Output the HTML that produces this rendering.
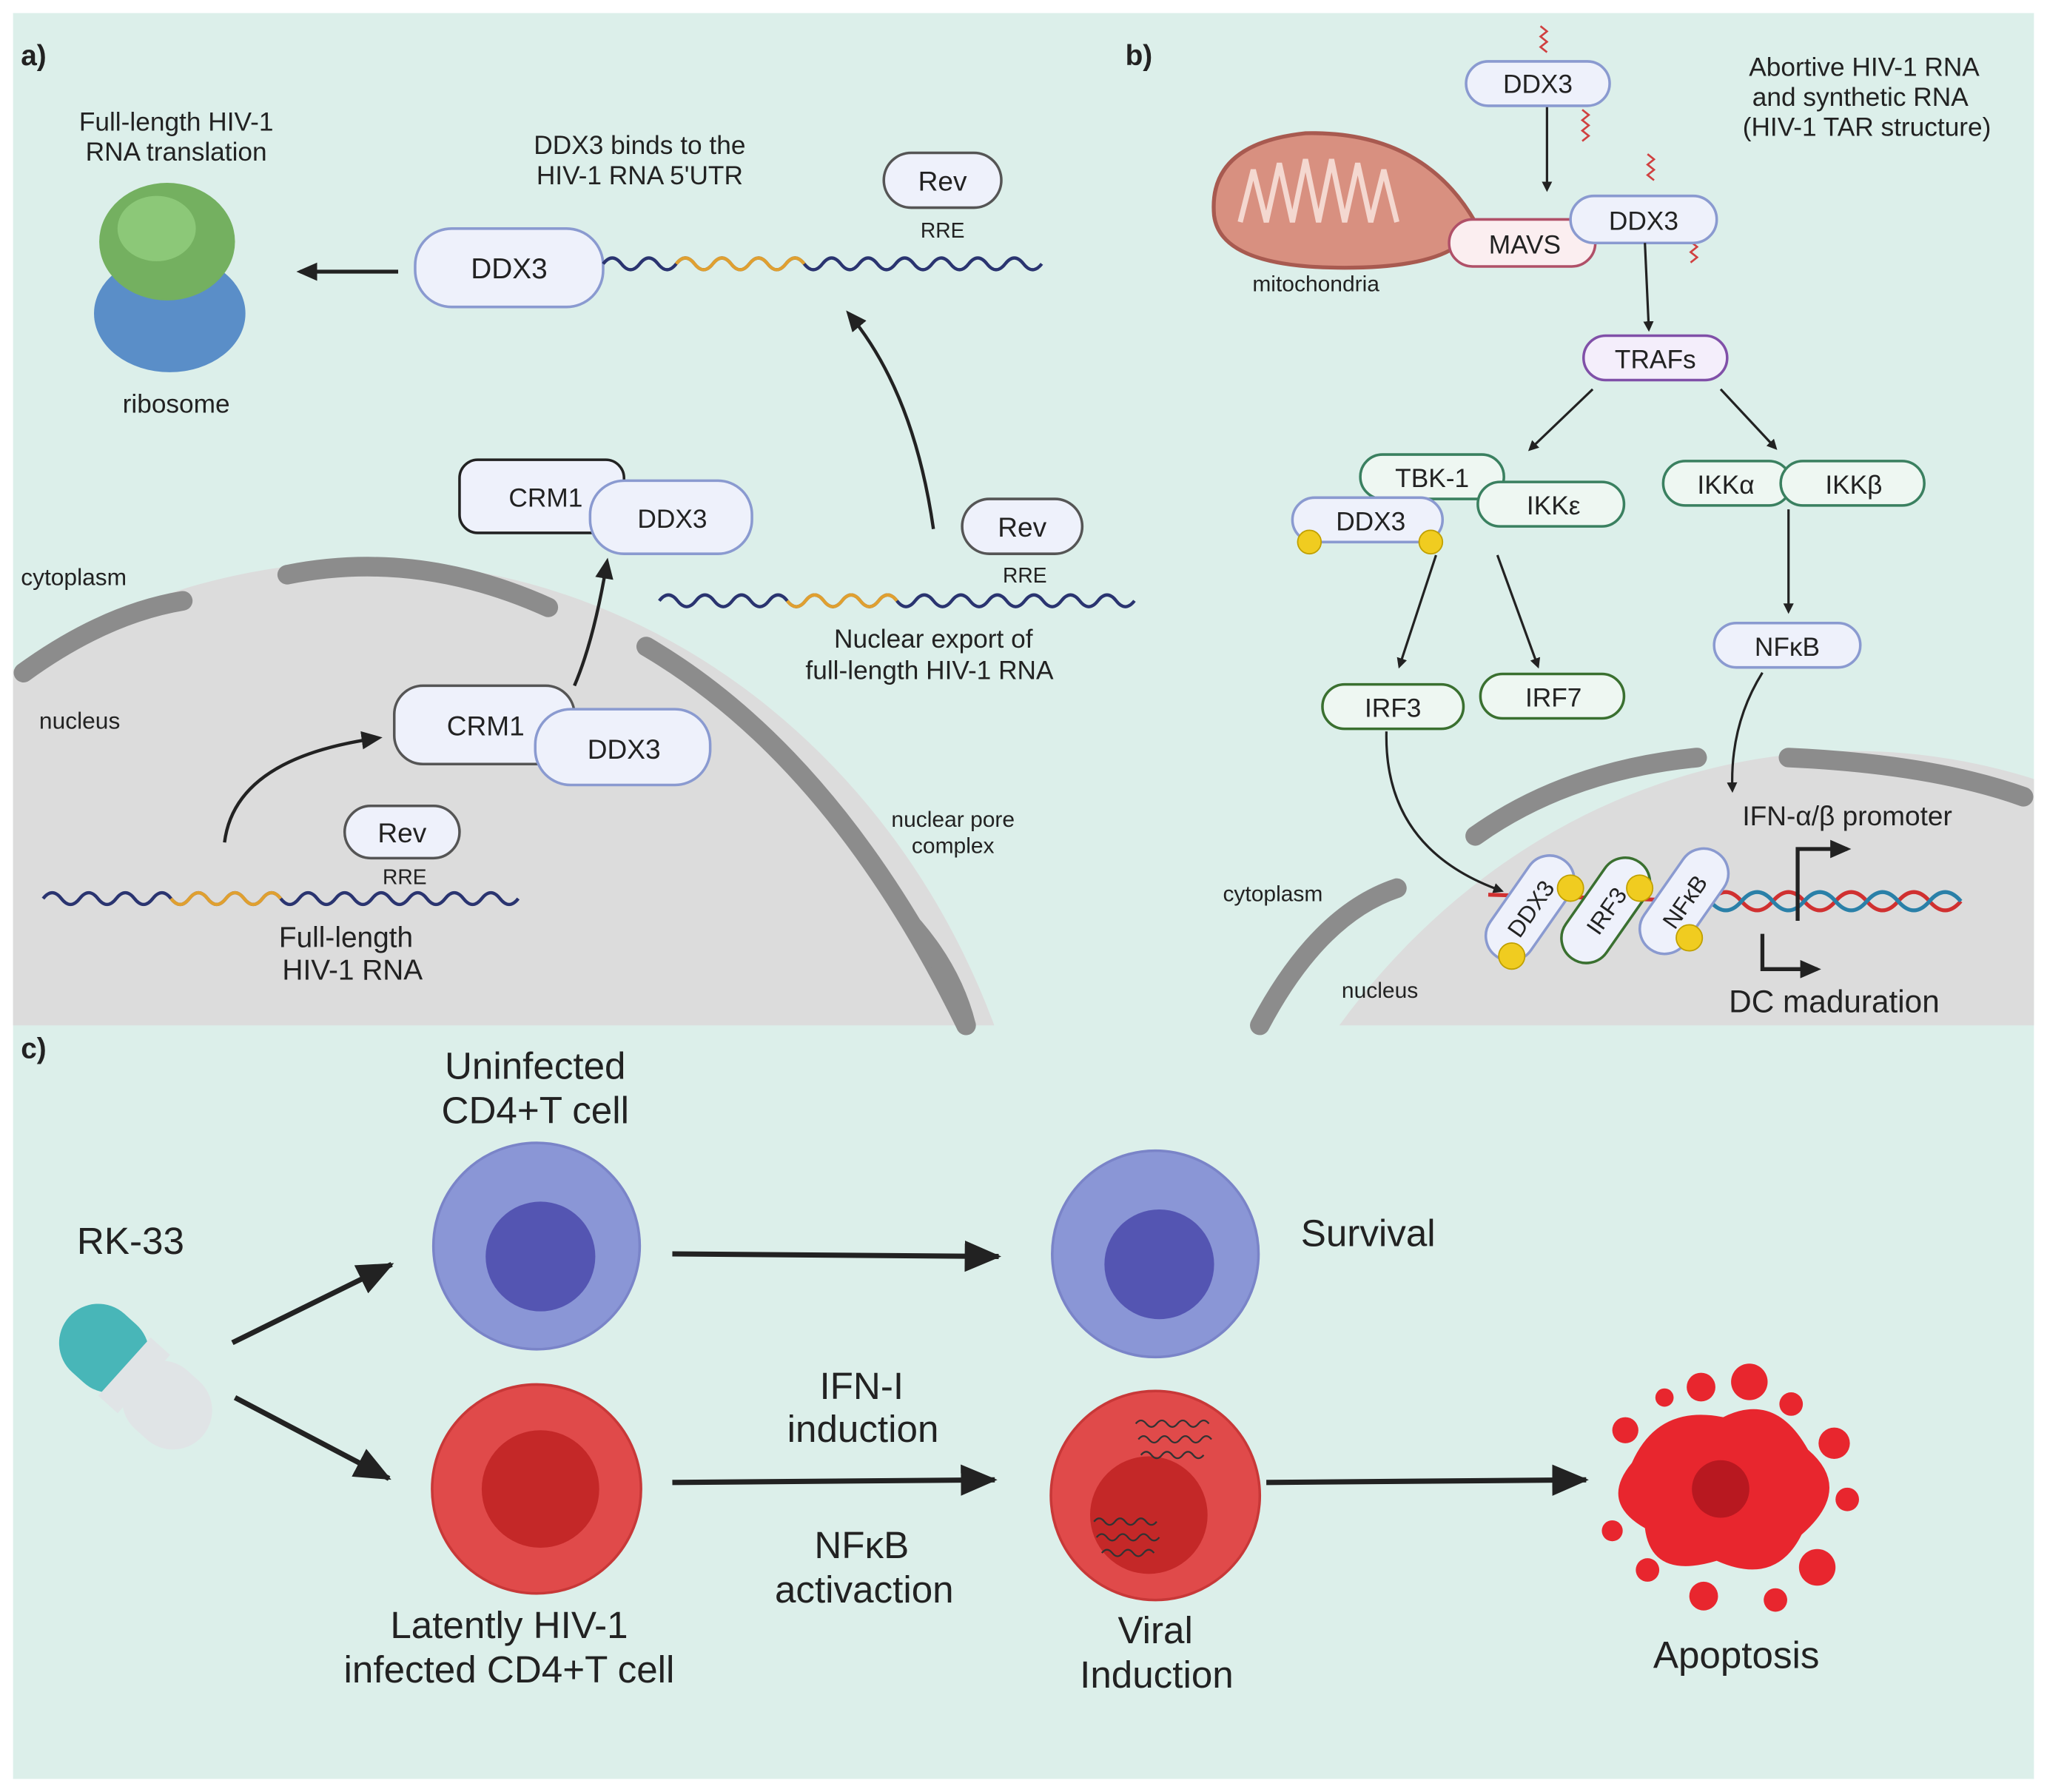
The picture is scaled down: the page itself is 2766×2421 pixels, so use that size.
<!DOCTYPE html>
<html><head><meta charset="utf-8"><style>
html,body{margin:0;padding:0;background:#fff;width:2766px;height:2421px;overflow:hidden}
svg{display:block}
text{font-family:"Liberation Sans",sans-serif;fill:#222}
</style></head><body>
<svg width="2766" height="2421" viewBox="0 0 1568 1372" preserveAspectRatio="none" xmlns="http://www.w3.org/2000/svg">
<defs>
<marker id="ar" markerWidth="8" markerHeight="8" refX="6" refY="4" orient="auto" markerUnits="userSpaceOnUse"><path d="M0,0 L8,4 L0,8 z" fill="#222"/></marker>
<marker id="arB" markerWidth="30" markerHeight="24" refX="26" refY="12" orient="auto" markerUnits="userSpaceOnUse"><path d="M0,0 L28,12 L0,24 z" fill="#222"/></marker>
<marker id="arM" markerWidth="16" markerHeight="14" refX="13" refY="7" orient="auto" markerUnits="userSpaceOnUse"><path d="M0,0 L16,7 L0,14 z" fill="#222"/></marker>
<clipPath id="ca"><rect x="10" y="10" width="1548" height="775"/></clipPath>
</defs>
<rect x="10" y="10" width="1548" height="1352" fill="#dcefea"/>
<g clip-path="url(#ca)">
<ellipse cx="280" cy="1000" rx="520" ry="570" fill="#dcdcdc"/>
<ellipse cx="1420" cy="1150" rx="510" ry="575" fill="#dcdcdc"/>
</g>
<g fill="none" stroke="#8c8c8c" stroke-width="15" stroke-linecap="round">
<path d="M18,515 Q80,470 140,460"/>
<path d="M220,440 Q320,420 420,465"/>
<path d="M495,495 Q640,580 740,785"/>
<path d="M700,710 Q730,745 740,785"/>
<path d="M965,785 Q1010,700 1070,680"/>
<path d="M1130,640 Q1200,590 1300,580"/>
<path d="M1370,580 Q1480,585 1550,610"/>
</g>
<text x="16" y="50" font-size="22" font-weight="bold">a)</text>
<text x="862" y="50" font-size="22" font-weight="bold">b)</text>
<text x="16" y="810" font-size="22" font-weight="bold">c)</text>
<text x="135" y="100" font-size="20" text-anchor="middle">Full-length  HIV-1</text>
<text x="135" y="123" font-size="20" text-anchor="middle">RNA translation</text>
<ellipse cx="130" cy="240" rx="58" ry="45" fill="#5a8ec8"/>
<ellipse cx="128" cy="185" rx="52" ry="45" fill="#74b060"/>
<ellipse cx="120" cy="175" rx="30" ry="25" fill="#8cc878"/>
<text x="135" y="316" font-size="20" text-anchor="middle">ribosome</text>
<line x1="305" y1="208" x2="230" y2="208" stroke="#222" stroke-width="3" marker-end="url(#arM)"/>
<text x="490" y="118" font-size="20" text-anchor="middle">DDX3 binds to the</text>
<text x="490" y="141" font-size="20" text-anchor="middle">HIV-1 RNA 5'UTR</text>
<rect x="318" y="175" width="144" height="60" rx="28" fill="#eef1fb" stroke="#8a9ad0" stroke-width="2"/>
<text x="390" y="213" font-size="22" text-anchor="middle">DDX3</text>
<path d="M462,202 q7,-9 14,0 t14,0 t14,0 t14,0 t14,0 t14,0 t14,0 t14,0 t14,0 t14,0 t14,0 t14,0 t14,0 t14,0 t14,0 t14,0 t14,0 t14,0 t14,0 t14,0 t14,0 t14,0 t14,0 t14,0" fill="none" stroke="#2a3470" stroke-width="2.5"/>
<path d="M518,202 q7,-9 14,0 t14,0 t14,0 t14,0 t14,0 t14,0 t14,0" fill="none" stroke="#e0a030" stroke-width="2.5"/>
<rect x="677" y="117" width="90" height="42" rx="21" fill="#eef1fb" stroke="#555" stroke-width="2"/>
<text x="722" y="146" font-size="21" text-anchor="middle">Rev</text>
<text x="722" y="182" font-size="16" text-anchor="middle">RRE</text>
<path d="M715,405 Q700,300 650,240" fill="none" stroke="#222" stroke-width="2.5" marker-end="url(#arM)"/>
<rect x="352" y="352" width="126" height="56" rx="14" fill="#eef1fb" stroke="#222" stroke-width="2"/>
<text x="418" y="388" font-size="20" text-anchor="middle">CRM1</text>
<rect x="452" y="368" width="124" height="56" rx="26" fill="#eef1fb" stroke="#8a9ad0" stroke-width="2"/>
<text x="515" y="404" font-size="20" text-anchor="middle">DDX3</text>
<text x="16" y="448" font-size="18">cytoplasm</text>
<text x="30" y="558" font-size="18">nucleus</text>
<rect x="737" y="382" width="92" height="42" rx="21" fill="#eef1fb" stroke="#555" stroke-width="2"/>
<text x="783" y="411" font-size="21" text-anchor="middle">Rev</text>
<text x="785" y="446" font-size="16" text-anchor="middle">RRE</text>
<path d="M505,460 q7,-9 14,0 t14,0 t14,0 t14,0 t14,0 t14,0 t14,0 t14,0 t14,0 t14,0 t14,0 t14,0 t14,0 t14,0 t14,0 t14,0 t14,0 t14,0 t14,0 t14,0 t14,0 t14,0 t14,0 t14,0 t14,0 t14,0" fill="none" stroke="#2a3470" stroke-width="2.5"/>
<path d="M603,460 q7,9 14,0 t14,0 t14,0 t14,0 t14,0 t14,0" fill="none" stroke="#e0a030" stroke-width="2.5"/>
<text x="715" y="496" font-size="20" text-anchor="middle">Nuclear export of</text>
<text x="712" y="520" font-size="20" text-anchor="middle">full-length HIV-1 RNA</text>
<path d="M440,525 Q455,490 465,430" fill="none" stroke="#222" stroke-width="2.5" marker-end="url(#arM)"/>
<rect x="302" y="525" width="138" height="60" rx="22" fill="#eef1fb" stroke="#555" stroke-width="2"/>
<text x="372" y="563" font-size="21" text-anchor="middle">CRM1</text>
<rect x="410" y="543" width="134" height="58" rx="27" fill="#eef1fb" stroke="#8a9ad0" stroke-width="2"/>
<text x="478" y="581" font-size="21" text-anchor="middle">DDX3</text>
<path d="M172,645 Q180,580 290,565" fill="none" stroke="#222" stroke-width="2.5" marker-end="url(#arM)"/>
<rect x="264" y="617" width="88" height="40" rx="20" fill="#eef1fb" stroke="#555" stroke-width="2"/>
<text x="308" y="645" font-size="21" text-anchor="middle">Rev</text>
<text x="310" y="677" font-size="16" text-anchor="middle">RRE</text>
<path d="M33,688 q7,-9 14,0 t14,0 t14,0 t14,0 t14,0 t14,0 t14,0 t14,0 t14,0 t14,0 t14,0 t14,0 t14,0 t14,0 t14,0 t14,0 t14,0 t14,0 t14,0 t14,0 t14,0 t14,0 t14,0 t14,0 t14,0 t14,0" fill="none" stroke="#2a3470" stroke-width="2.5"/>
<path d="M131,688 q7,9 14,0 t14,0 t14,0 t14,0 t14,0 t14,0" fill="none" stroke="#e0a030" stroke-width="2.5"/>
<text x="265" y="725" font-size="22" text-anchor="middle">Full-length</text>
<text x="270" y="750" font-size="22" text-anchor="middle">HIV-1 RNA</text>
<text x="730" y="633" font-size="17" text-anchor="middle">nuclear pore</text>
<text x="730" y="653" font-size="17" text-anchor="middle">complex</text>
<rect x="1123" y="47" width="110" height="34" rx="17" fill="#eef1fb" stroke="#8a9ad0" stroke-width="2"/>
<text x="1178" y="71" font-size="20" text-anchor="middle">DDX3</text>
<path d="M1180,20 l5,4 -5,4 5,4 -5,4 5,4" fill="none" stroke="#d04040" stroke-width="1.5"/>
<path d="M1212,84 l5,4 -5,4 5,4 -5,4 5,4 -5,4" fill="none" stroke="#d04040" stroke-width="1.5"/>
<path d="M1262,118 l5,4 -5,4 5,4 -5,4 5,4" fill="none" stroke="#d04040" stroke-width="1.5"/>
<path d="M1295,185 l5,4 -5,4 5,4 -5,4" fill="none" stroke="#d04040" stroke-width="1.5"/>
<text x="1428" y="58" font-size="20" text-anchor="middle">Abortive HIV-1 RNA</text>
<text x="1425" y="81" font-size="20" text-anchor="middle">and synthetic RNA</text>
<text x="1430" y="104" font-size="20" text-anchor="middle">(HIV-1 TAR structure)</text>
<line x1="1185" y1="82" x2="1185" y2="145" stroke="#222" stroke-width="1.8" marker-end="url(#ar)"/>
<path d="M930,165 Q925,110 1000,102 Q1090,100 1130,170 Q1120,205 1030,205 Q935,205 930,165 z" fill="#d89080" stroke="#a85a50" stroke-width="3"/>
<path d="M950,170 l10,-40 l10,40 l10,-45 l10,45 l10,-48 l10,48 l10,-48 l10,48 l10,-45 l10,45 l10,-40 l10,40" fill="none" stroke="#f4d8d0" stroke-width="4"/>
<text x="1008" y="223" font-size="17" text-anchor="middle">mitochondria</text>
<rect x="1110" y="168" width="112" height="36" rx="18" fill="#fbeef0" stroke="#b05068" stroke-width="2"/>
<text x="1168" y="194" font-size="20" text-anchor="middle">MAVS</text>
<rect x="1203" y="150" width="112" height="36" rx="18" fill="#eef1fb" stroke="#8a9ad0" stroke-width="2"/>
<text x="1259" y="176" font-size="20" text-anchor="middle">DDX3</text>
<line x1="1260" y1="186" x2="1263" y2="252" stroke="#222" stroke-width="1.8" marker-end="url(#ar)"/>
<rect x="1213" y="257" width="110" height="34" rx="17" fill="#f4eefb" stroke="#8050a8" stroke-width="2"/>
<text x="1268" y="282" font-size="20" text-anchor="middle">TRAFs</text>
<line x1="1220" y1="298" x2="1172" y2="344" stroke="#222" stroke-width="1.8" marker-end="url(#ar)"/>
<line x1="1318" y1="298" x2="1360" y2="343" stroke="#222" stroke-width="1.8" marker-end="url(#ar)"/>
<rect x="1042" y="348" width="110" height="34" rx="17" fill="#eef7f2" stroke="#3a8060" stroke-width="2"/>
<text x="1097" y="373" font-size="20" text-anchor="middle">TBK-1</text>
<rect x="1132" y="369" width="112" height="34" rx="17" fill="#eef7f2" stroke="#3a8060" stroke-width="2"/>
<text x="1190" y="394" font-size="20" text-anchor="middle">IKKε</text>
<rect x="990" y="381" width="115" height="34" rx="17" fill="#eef1fb" stroke="#8a9ad0" stroke-width="2"/>
<text x="1050" y="406" font-size="20" text-anchor="middle">DDX3</text>
<circle cx="1003" cy="415" r="9" fill="#f0cc20" stroke="#c0a000"/>
<circle cx="1096" cy="415" r="9" fill="#f0cc20" stroke="#c0a000"/>
<rect x="1274" y="353" width="98" height="34" rx="17" fill="#eef7f2" stroke="#3a8060" stroke-width="2"/>
<text x="1322" y="378" font-size="20" text-anchor="middle">IKKα</text>
<rect x="1364" y="353" width="110" height="34" rx="17" fill="#eef7f2" stroke="#3a8060" stroke-width="2"/>
<text x="1420" y="378" font-size="20" text-anchor="middle">IKKβ</text>
<line x1="1370" y1="390" x2="1370" y2="468" stroke="#222" stroke-width="1.8" marker-end="url(#ar)"/>
<rect x="1313" y="477" width="112" height="34" rx="17" fill="#eef1fb" stroke="#8a9ad0" stroke-width="2"/>
<text x="1369" y="502" font-size="20" text-anchor="middle">NFκB</text>
<line x1="1100" y1="425" x2="1072" y2="510" stroke="#222" stroke-width="1.8" marker-end="url(#ar)"/>
<line x1="1147" y1="425" x2="1178" y2="510" stroke="#222" stroke-width="1.8" marker-end="url(#ar)"/>
<rect x="1013" y="524" width="108" height="34" rx="17" fill="#eef7f2" stroke="#3a7030" stroke-width="2"/>
<text x="1067" y="549" font-size="20" text-anchor="middle">IRF3</text>
<rect x="1134" y="516" width="110" height="34" rx="17" fill="#eef7f2" stroke="#3a7030" stroke-width="2"/>
<text x="1190" y="541" font-size="20" text-anchor="middle">IRF7</text>
<path d="M1062,560 Q1060,650 1150,682" fill="none" stroke="#222" stroke-width="1.8" marker-end="url(#ar)"/>
<path d="M1350,515 Q1325,555 1327,605" fill="none" stroke="#222" stroke-width="1.8" marker-end="url(#ar)"/>
<text x="1415" y="632" font-size="21" text-anchor="middle">IFN-α/β promoter</text>
<text x="975" y="690" font-size="17" text-anchor="middle">cytoplasm</text>
<text x="1057" y="764" font-size="17" text-anchor="middle">nucleus</text>
<path d="M1310,690 q12,-14 24,0 t24,0 t24,0 t24,0 t24,0 t24,0 t24,0 t24,0" fill="none" stroke="#d03030" stroke-width="3"/>
<path d="M1310,690 q12,14 24,0 t24,0 t24,0 t24,0 t24,0 t24,0 t24,0 t24,0" fill="none" stroke="#2a80a8" stroke-width="3"/>
<path d="M1140,685 L1310,690" stroke="#d03030" stroke-width="3"/>
<g transform="rotate(-55 1170 700)"><rect x="1130" y="680" width="90" height="38" rx="19" fill="#eef1fb" stroke="#8a9ad0" stroke-width="2"/><text x="1175" y="706" font-size="18" text-anchor="middle">DDX3</text></g>
<g transform="rotate(-55 1230 697)"><rect x="1185" y="678" width="90" height="38" rx="19" fill="#eef1fb" stroke="#3a7030" stroke-width="2"/><text x="1230" y="704" font-size="18" text-anchor="middle">IRF3</text></g>
<g transform="rotate(-55 1290 690)"><rect x="1245" y="671" width="90" height="38" rx="19" fill="#eef1fb" stroke="#8a9ad0" stroke-width="2"/><text x="1290" y="697" font-size="18" text-anchor="middle">NFκB</text></g>
<circle cx="1158" cy="732" r="10" fill="#f0cc20" stroke="#c0a000"/>
<circle cx="1203" cy="680" r="10" fill="#f0cc20" stroke="#c0a000"/>
<circle cx="1256" cy="680" r="10" fill="#f0cc20" stroke="#c0a000"/>
<circle cx="1294" cy="718" r="10" fill="#f0cc20" stroke="#c0a000"/>
<path d="M1377,705 V650 H1415" fill="none" stroke="#222" stroke-width="3" marker-end="url(#arM)"/>
<path d="M1350,715 V742 H1392" fill="none" stroke="#222" stroke-width="3" marker-end="url(#arM)"/>
<text x="1405" y="775" font-size="24" text-anchor="middle">DC maduration</text>
<text x="410" y="826" font-size="29" text-anchor="middle">Uninfected</text>
<text x="410" y="860" font-size="29" text-anchor="middle">CD4+T cell</text>
<text x="100" y="960" font-size="29" text-anchor="middle">RK-33</text>
<g transform="rotate(42 105 1055)">
<rect x="35" y="1025" width="72" height="60" rx="30" fill="#48b6b8"/>
<rect x="100" y="1025" width="72" height="60" rx="30" fill="#e0e4e6"/>
<rect x="92" y="1025" width="20" height="60" fill="#e0e4e6"/>
</g>
<line x1="178" y1="1028" x2="300" y2="968" stroke="#222" stroke-width="4" marker-end="url(#arB)"/>
<line x1="180" y1="1070" x2="298" y2="1132" stroke="#222" stroke-width="4" marker-end="url(#arB)"/>
<circle cx="411" cy="954" r="79" fill="#8a96d6" stroke="#7a84c8" stroke-width="2"/>
<circle cx="414" cy="962" r="42" fill="#5455b2"/>
<line x1="515" y1="960" x2="765" y2="962" stroke="#222" stroke-width="4" marker-end="url(#arB)"/>
<circle cx="885" cy="960" r="79" fill="#8a96d6" stroke="#7a84c8" stroke-width="2"/>
<circle cx="888" cy="968" r="42" fill="#5455b2"/>
<text x="1048" y="954" font-size="29" text-anchor="middle">Survival</text>
<circle cx="411" cy="1140" r="80" fill="#e04a4a" stroke="#c83838" stroke-width="2"/>
<circle cx="414" cy="1140" r="45" fill="#c42828"/>
<text x="660" y="1071" font-size="29" text-anchor="middle">IFN-I</text>
<text x="661" y="1104" font-size="29" text-anchor="middle">induction</text>
<line x1="515" y1="1135" x2="762" y2="1133" stroke="#222" stroke-width="4" marker-end="url(#arB)"/>
<text x="660" y="1193" font-size="29" text-anchor="middle">NFκB</text>
<text x="662" y="1227" font-size="29" text-anchor="middle">activaction</text>
<circle cx="885" cy="1145" r="80" fill="#e04a4a" stroke="#c83838" stroke-width="2"/>
<circle cx="880" cy="1160" r="45" fill="#c42828"/>
<path d="M870,1090 q4,-5 8,0 t8,0 t8,0 t8,0 t8,0 t8,0 t8,0 M872,1102 q4,-5 8,0 t8,0 t8,0 t8,0 t8,0 t8,0 t8,0 M874,1114 q4,-5 8,0 t8,0 t8,0 t8,0 t8,0 t8,0 M838,1165 q4,-5 8,0 t8,0 t8,0 t8,0 t8,0 t8,0 M840,1177 q4,-5 8,0 t8,0 t8,0 t8,0 t8,0 t8,0 M844,1189 q4,-5 8,0 t8,0 t8,0 t8,0 t8,0" fill="none" stroke="#333" stroke-width="1.3"/>
<line x1="970" y1="1135" x2="1215" y2="1133" stroke="#222" stroke-width="4" marker-end="url(#arB)"/>
<text x="390" y="1254" font-size="29" text-anchor="middle">Latently  HIV-1</text>
<text x="390" y="1288" font-size="29" text-anchor="middle">infected CD4+T cell</text>
<text x="885" y="1258" font-size="29" text-anchor="middle">Viral</text>
<text x="886" y="1292" font-size="29" text-anchor="middle">Induction</text>
<g fill="#e8262e">
<path d="M1250,1120 Q1270,1075 1320,1085 Q1360,1065 1385,1110 Q1420,1140 1380,1175 Q1360,1215 1315,1195 Q1265,1210 1260,1170 Q1225,1150 1250,1120 z"/>
<circle cx="1303" cy="1062" r="11"/><circle cx="1340" cy="1058" r="14"/><circle cx="1372" cy="1075" r="9"/>
<circle cx="1405" cy="1105" r="12"/><circle cx="1415" cy="1148" r="9"/><circle cx="1392" cy="1200" r="14"/>
<circle cx="1360" cy="1225" r="9"/><circle cx="1305" cy="1222" r="11"/><circle cx="1262" cy="1202" r="9"/>
<circle cx="1235" cy="1172" r="8"/><circle cx="1245" cy="1095" r="10"/><circle cx="1275" cy="1070" r="7"/>
</g>
<circle cx="1318" cy="1140" r="22" fill="#b81820"/>
<text x="1330" y="1277" font-size="29" text-anchor="middle">Apoptosis</text>
</svg>
</body></html>
